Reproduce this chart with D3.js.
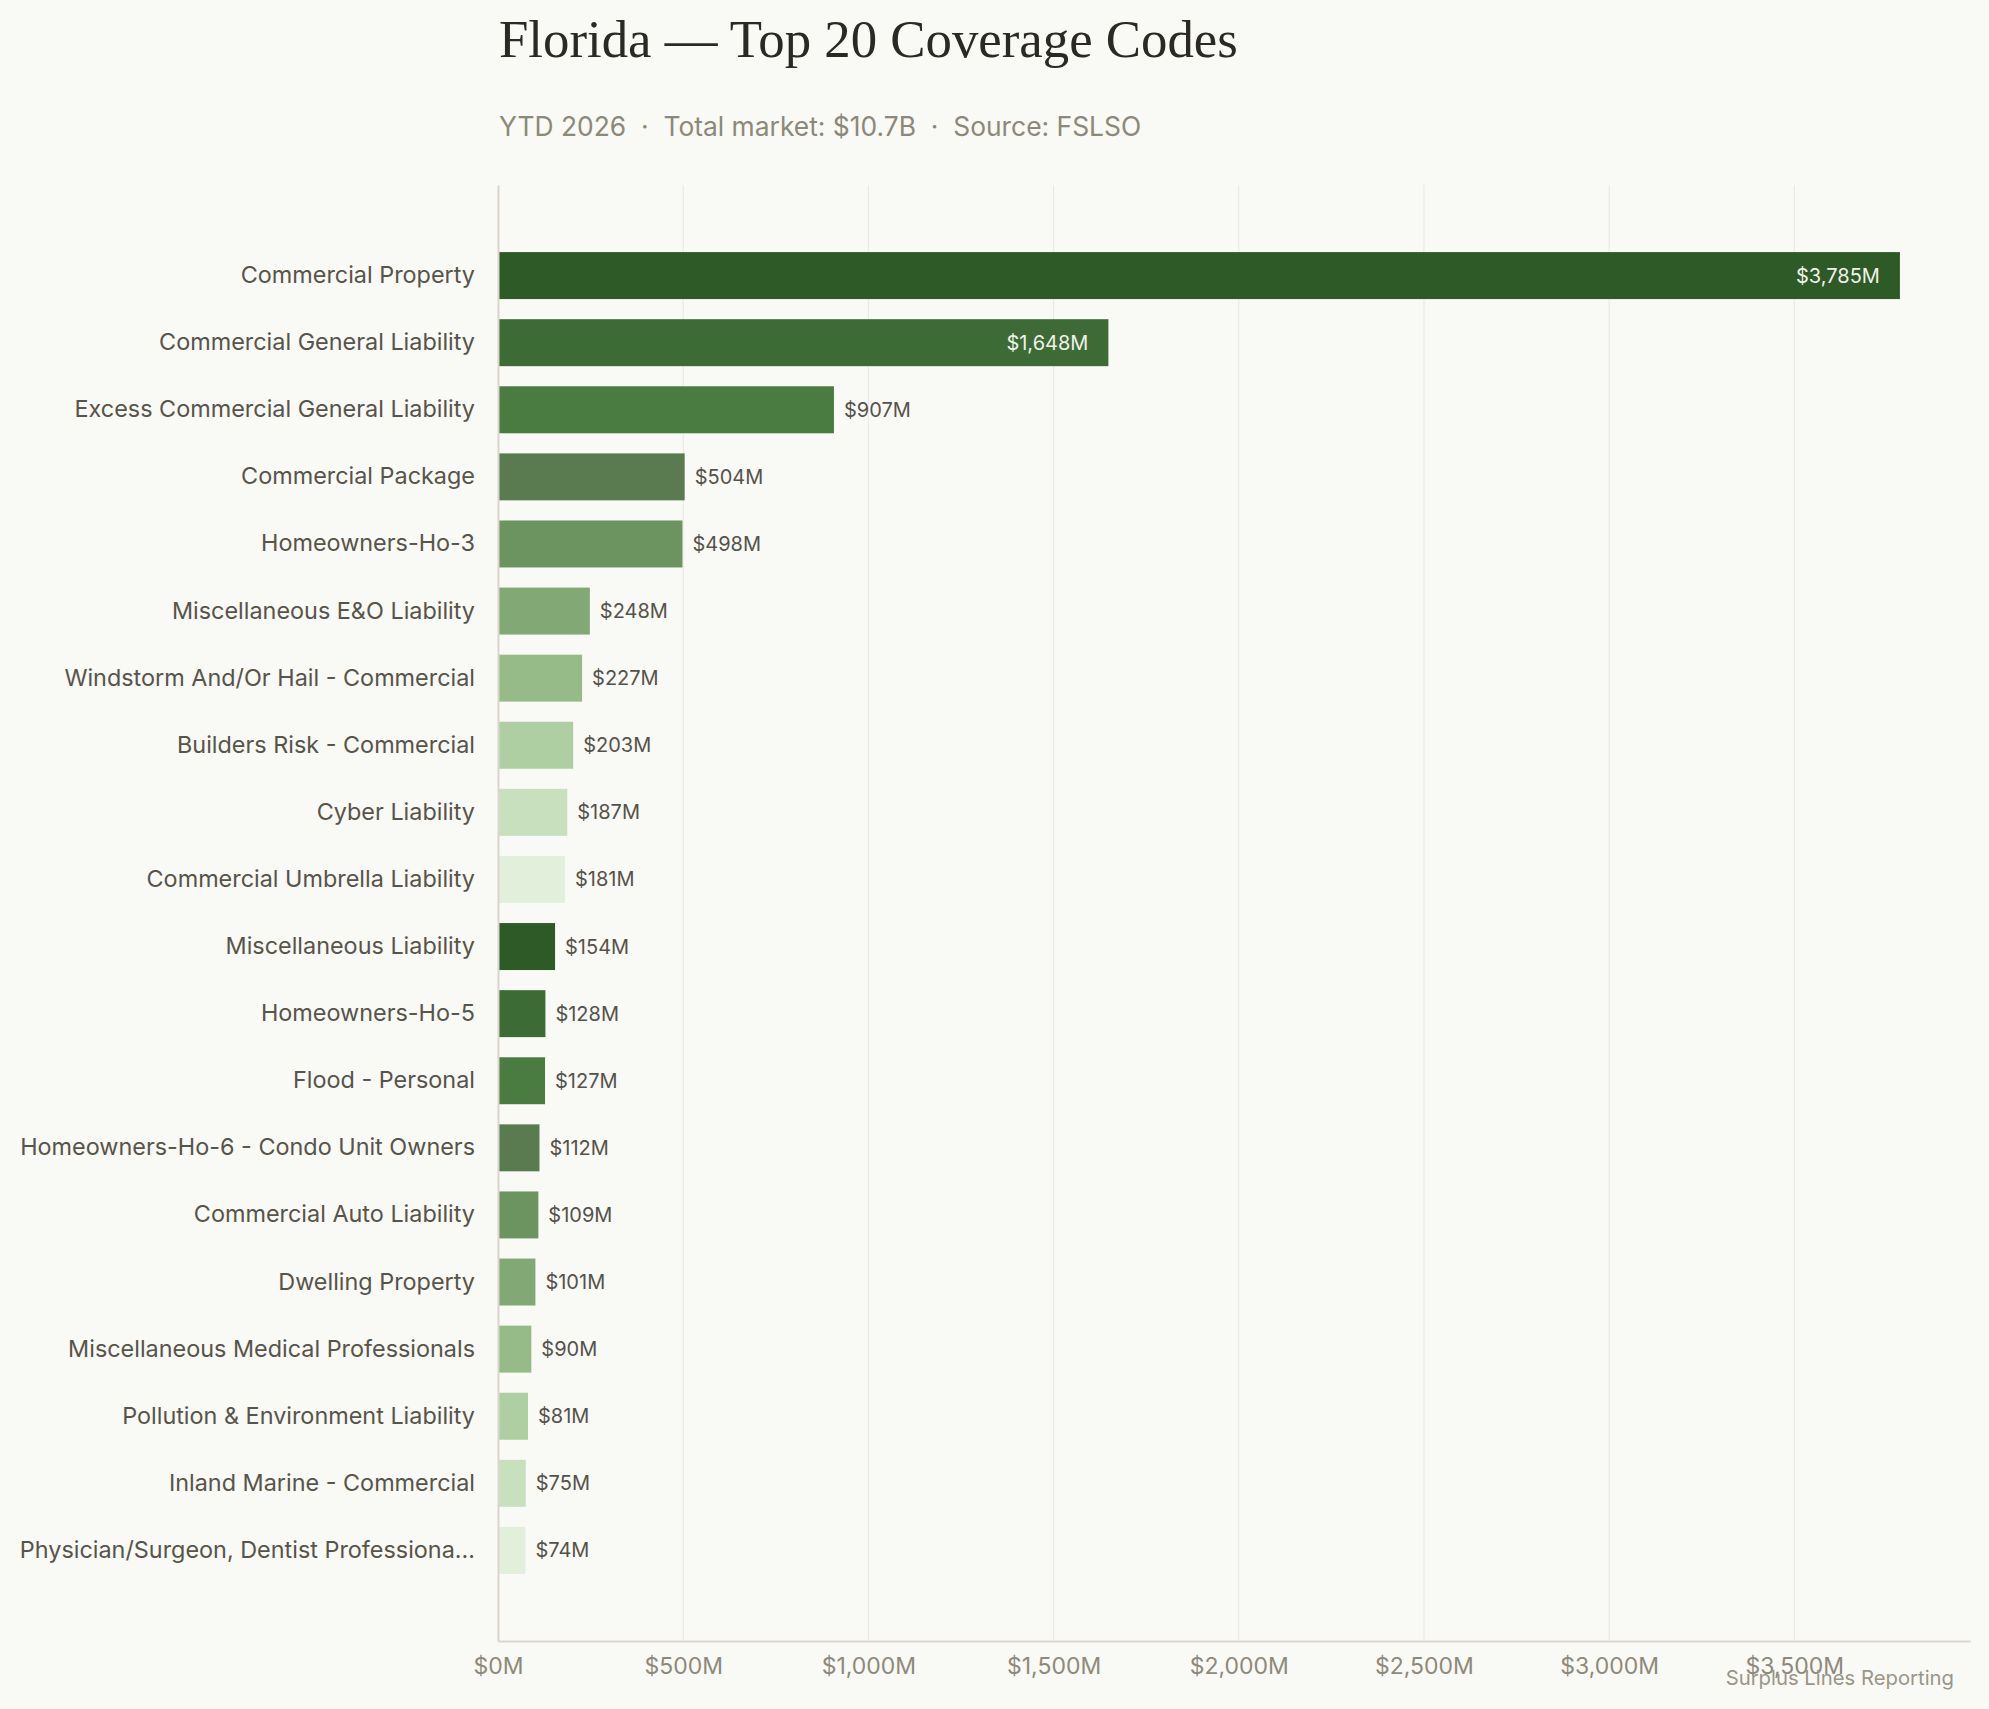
<!DOCTYPE html>
<html>
<head>
<meta charset="utf-8">
<script src="https://cdn.jsdelivr.net/npm/d3@7"></script>
<style>
  body { margin: 0; background: #f9f9f5; }
  svg { display: block; }
</style>
</head>
<body>
<div id="chart"></div>
<script>
// coverage codes, in rank order
var categories = [
  "Commercial Property",
  "Commercial General Liability",
  "Excess Commercial General Liability",
  "Commercial Package",
  "Homeowners-Ho-3",
  "Miscellaneous E&O Liability",
  "Windstorm And/Or Hail - Commercial",
  "Builders Risk - Commercial",
  "Cyber Liability",
  "Commercial Umbrella Liability",
  "Miscellaneous Liability",
  "Homeowners-Ho-5",
  "Flood - Personal",
  "Homeowners-Ho-6 - Condo Unit Owners",
  "Commercial Auto Liability",
  "Dwelling Property",
  "Miscellaneous Medical Professionals",
  "Pollution & Environment Liability",
  "Inland Marine - Commercial",
  "Physician/Surgeon, Dentist Professiona\u2026"
];

// premium, $M
var premiums = [3785, 1648, 907, 504, 498, 248, 227, 203, 187, 181,
                154, 128, 127, 112, 109, 101, 90, 81, 75, 74];

var xTicks = [0, 500, 1000, 1500, 2000, 2500, 3000, 3500];

var palette = ["#2d5a27", "#3d6b35", "#4a7c42", "#5a7a50", "#6b9461",
               "#82a876", "#96bb89", "#aecfa2", "#c8e0be", "#e1efdb"];

var svgWidth = 1989;
var svgHeight = 1709;

var margin = { top: 185, right: 19, bottom: 68, left: 498 };
var width = svgWidth - margin.left - margin.right;
var height = svgHeight - margin.top - margin.bottom;

var data = categories.map(function(c, i) {
  return { name: c, value: premiums[i] };
});

var svg = d3.select("#chart")
  .append("svg")
  .attr("width", svgWidth)
  .attr("height", svgHeight);

// title + subtitle
svg.append("text")
  .attr("x", 499)
  .attr("y", 57)
  .attr("font-family", "'Liberation Serif', 'DejaVu Serif', serif")
  .attr("font-size", 52.8)
  .attr("fill", "#2a2924")
  .text("Florida \u2014 Top 20 Coverage Codes");

svg.append("text")
  .attr("x", 499)
  .attr("y", 136)
  .attr("font-family", "Inter, 'Noto Sans', sans-serif")
  .attr("font-size", 26.4)
  .attr("fill", "#8c8979")
  .attr("xml:space", "preserve")
  .text("YTD 2026  \u00b7  Total market: $10.7B  \u00b7  Source: FSLSO");

var chartGroup = svg.append("g")
  .attr("transform", `translate(${margin.left}, ${margin.top})`);

var xScale = d3.scaleLinear()
  .domain([0, d3.max(premiums) * 1.05])
  .range([0, width]);

var yScale = d3.scaleBand()
  .domain(categories)
  .range([0, height])
  .paddingInner(0.3)
  .paddingOuter(1);

// vertical grid
chartGroup.append("g")
  .selectAll("line")
  .data(xTicks.slice(1))
  .enter()
  .append("line")
  .attr("x1", d => xScale(d))
  .attr("x2", d => xScale(d))
  .attr("y1", 0)
  .attr("y2", height)
  .attr("stroke", "#ebe7e1")
  .attr("stroke-width", 1);

// bars
chartGroup.selectAll(".bar")
  .data(data)
  .enter()
  .append("rect")
  .attr("class", "bar")
  .attr("x", 0)
  .attr("y", d => yScale(d.name))
  .attr("width", d => xScale(d.value))
  .attr("height", yScale.bandwidth())
  .attr("fill", (d, i) => palette[i % palette.length]);

// value labels - inside for long bars, outside otherwise
var fmt = d3.format(",");
function isInside(d) { return xScale(d.value) > width * 0.3; }

chartGroup.selectAll(".valueText")
  .data(data)
  .enter()
  .append("text")
  .attr("class", "valueText")
  .attr("x", d => isInside(d) ? xScale(d.value) - 20 : xScale(d.value) + 10)
  .attr("y", d => yScale(d.name) + yScale.bandwidth() / 2)
  .attr("dy", "0.35em")
  .attr("text-anchor", d => isInside(d) ? "end" : "start")
  .attr("font-family", "Inter, 'Noto Sans', sans-serif")
  .attr("font-size", 20)
  .attr("fill", d => isInside(d) ? "#f1f1ea" : "#55524a")
  .text(d => "$" + fmt(d.value) + "M");

// y axis
var leftAxis = d3.axisLeft(yScale)
  .tickSize(0)
  .tickPadding(23);

var yAxis = chartGroup.append("g")
  .call(leftAxis);
yAxis.select(".domain")
  .attr("stroke", "#d9d5cc")
  .attr("stroke-width", 2);
yAxis.selectAll("text")
  .attr("font-family", "Inter, 'Noto Sans', sans-serif")
  .attr("font-size", 23.4)
  .attr("fill", "#57544a");

// x axis
var bottomAxis = d3.axisBottom(xScale)
  .tickValues(xTicks)
  .tickSize(0)
  .tickSizeOuter(0)
  .tickPadding(17)
  .tickFormat(d => "$" + fmt(d) + "M");

var xAxis = chartGroup.append("g")
  .attr("transform", `translate(0, ${height})`)
  .call(bottomAxis);
xAxis.select(".domain")
  .attr("stroke", "#ddd8cf")
  .attr("stroke-width", 2);
xAxis.selectAll("text")
  .attr("font-family", "Inter, 'Noto Sans', sans-serif")
  .attr("font-size", 23)
  .attr("fill", "#8e8a7b");

// footer
svg.append("text")
  .attr("x", 1954)
  .attr("y", 1685)
  .attr("text-anchor", "end")
  .attr("font-family", "Inter, 'Noto Sans', sans-serif")
  .attr("font-size", 20.3)
  .attr("fill", "#9a9688")
  .text("Surplus Lines Reporting");
</script>
</body>
</html>
